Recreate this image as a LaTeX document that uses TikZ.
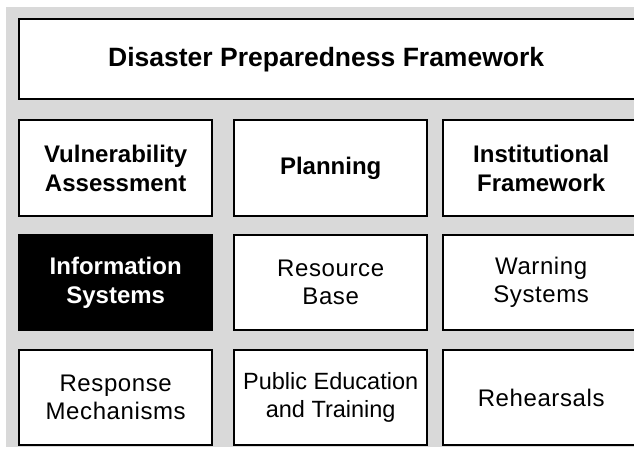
\documentclass[tikz,border=0pt]{standalone}
\usepackage{fontspec}
\setmainfont{Liberation Sans}
\begin{document}
\begin{tikzpicture}[x=1pt,y=-1pt,
  cell/.style={draw=black,line width=2.4pt,fill=white,inner sep=0pt,align=center,
    minimum width=193pt,minimum height=95pt},
  boldtext/.style={font=\fontsize{24}{29}\selectfont\bfseries},
  plaintext/.style={font=\fontsize{24}{28}\selectfont\addfontfeatures{LetterSpace=2.5}},
  narrowtext/.style={font=\fontsize{23.5}{28}\selectfont},
  darkcell/.style={cell,fill=black,text=white}]
\useasboundingbox (0,0) rectangle (634,450);
\fill[black!15] (6,7) rectangle (640,447);
\node[cell,minimum width=620pt,minimum height=80pt,anchor=north west,
  font=\fontsize{26.5}{30}\selectfont\bfseries] (title) at (18,18) {\hspace*{-6pt}Disaster Preparedness Framework};
% row 1
\node[cell,boldtext,anchor=north west,minimum height=96pt] (va) at (18,119) {Vulnerability\\Assessment};
\node[cell,boldtext,anchor=north west,minimum height=96pt] (pl) at (233,119) {Planning};
\node[cell,boldtext,anchor=north west,minimum height=96pt,minimum width=196pt] (if) at (442,119) {Institutional\\Framework};
% row 2
\node[darkcell,boldtext,anchor=north west] (is) at (18,234) {Information\\Systems};
\node[cell,plaintext,anchor=north west] (rb) at (233,234) {Resource\\Base};
\node[cell,plaintext,anchor=north west,minimum width=196pt] (ws) at (442,234) {Warning\\Systems};
% row 3
\node[cell,plaintext,anchor=north west] (rm) at (18,349) {Response\\Mechanisms};
\node[cell,narrowtext,anchor=north west] (pe) at (233,349) {Public Education\\and Training};
\node[cell,plaintext,anchor=north west,minimum width=196pt] (re) at (442,349) {Rehearsals};
\end{tikzpicture}
\end{document}
